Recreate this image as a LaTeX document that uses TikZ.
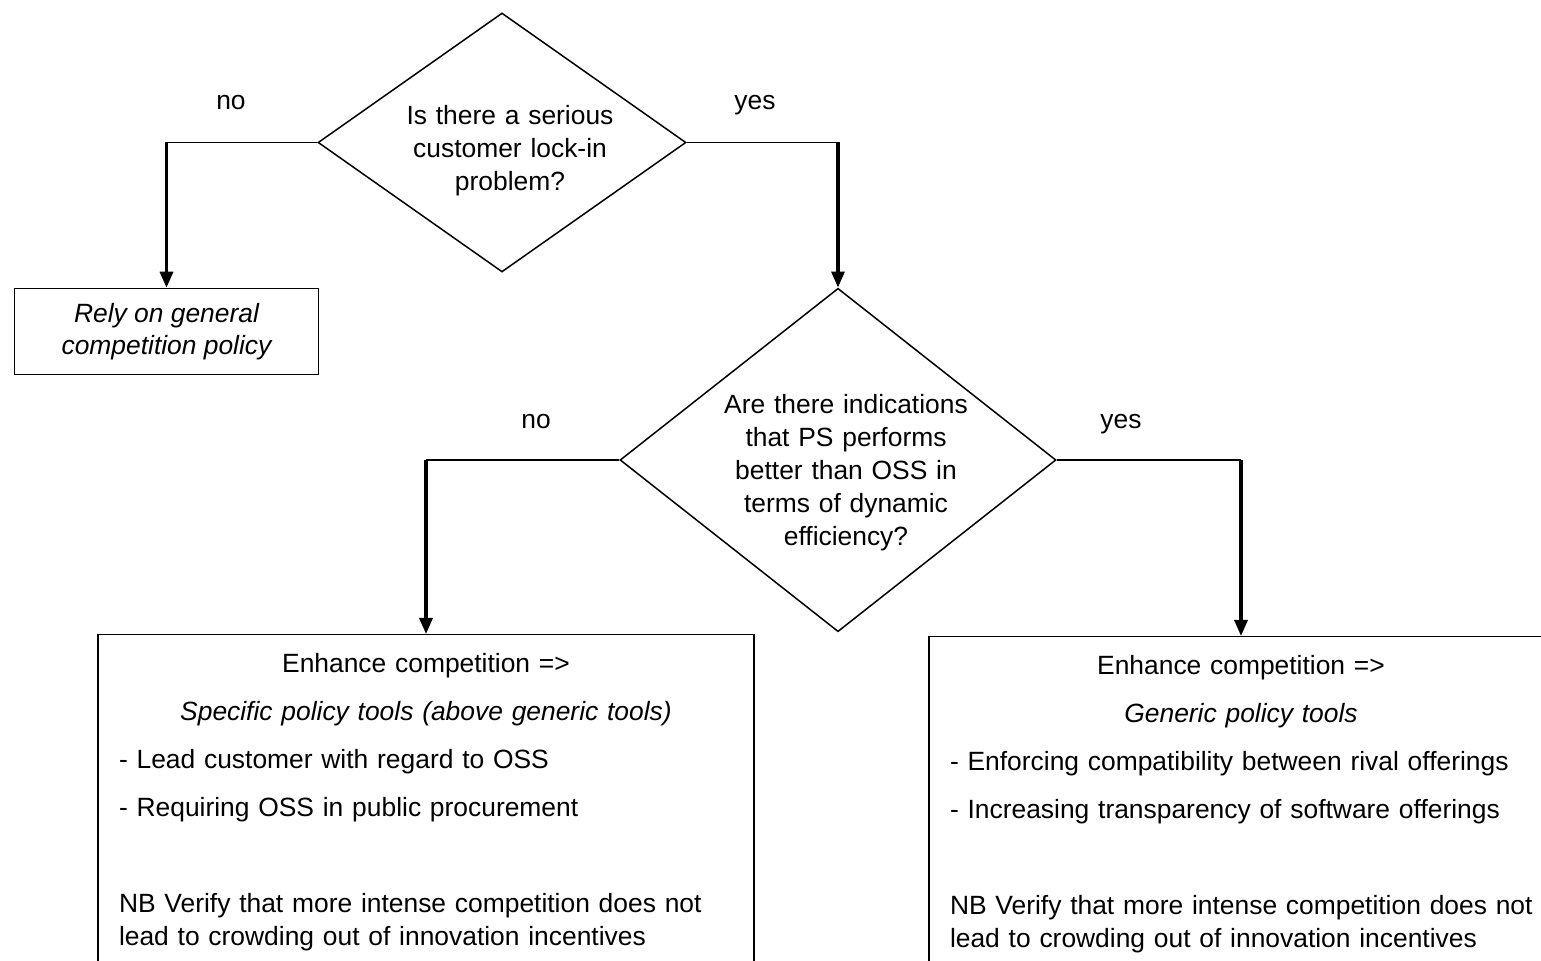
\documentclass[tikz,border=0pt]{standalone}
\usepackage{fontspec}
\setmainfont{Liberation Sans}
\usetikzlibrary{shapes.geometric, arrows.meta}
\begin{document}
\begin{tikzpicture}[x = 0.5pt, y = -0.5pt,
        every node/.style = {font = \fontsize{13.2}{16.4}\selectfont},
        ask/.style = {diamond, draw, line width = 0.75pt, inner sep = 0pt},
        asktext/.style = {anchor = base, align = center, text width = 150pt},
        answer/.style = {anchor = base},
        outcome/.style = {draw, line width = 0.75pt, minimum width = 152pt, minimum height = 43pt,
            align = center, font = \fontsize{13.2}{16}\selectfont\itshape},
        tools/.style = {draw, line width = 0.75pt, anchor = north, align = left,
            inner xsep = 10.5pt, inner ysep = 0pt, text height = 19pt, text depth = 200pt},
        link/.style = {line width = 0.75pt},
        flow/.style = {line width = 1.6pt, -{Triangle[length = 8pt, width = 6.5pt]}}]
        \path[use as bounding box, clip] (0,0) rectangle (1541,961);
        \begin{scope}[name prefix = top-]
            \node[ask, minimum width = 184pt, minimum height = 129.5pt] (Q) at (502,142.5) {};
            \node[asktext] (QT) at (510,125) {Is there a serious\\customer lock-in\\problem?};
            \node[answer] (no) at (231,110) {no};
            \node[answer] (yes) at (755,110) {yes};
            \node[outcome] (N) at (166.5,331.5) {Rely on general\\competition policy};
            \coordinate (NC) at (166.5,142.5);
            \coordinate (YC) at (838,142.5);
            \draw[link] (Q.west) -- (NC);
            \draw[flow] (NC) -- (N.north);
            \draw[link] (Q.east) -- (YC);
        \end{scope}
        \begin{scope}[name prefix = bottom-]
            \node[ask, minimum width = 218pt, minimum height = 171.7pt] (Q) at (838,460) {};
            \node[asktext] (QT) at (846,414) {Are there indications\\that PS performs\\better than OSS in\\terms of dynamic\\efficiency?};
            \node[answer] (no) at (536,429) {no};
            \node[answer] (yes) at (1121,429) {yes};
            \node[tools, text width = 307pt] (N) at (426,634) {%
                {\centering Enhance competition =>\\[7.6pt]
                \textit{Specific policy tools (above generic tools)}\par}
                \vspace{7.6pt}
                - Lead customer with regard to OSS\\[7.6pt]
                - Requiring OSS in public procurement\\[31.6pt]
                \mbox{NB Verify that more intense competition does not}\\
                lead to crowding out of innovation incentives};
            \node[tools, text width = 291pt] (Y) at (1241,636) {%
                {\centering Enhance competition =>\\[7.6pt]
                \textit{Generic policy tools}\par}
                \vspace{7.6pt}
                - Enforcing compatibility between rival offerings\\[7.6pt]
                - Increasing transparency of software offerings\\[31.6pt]
                \mbox{NB Verify that more intense competition does not}\\
                lead to crowding out of innovation incentives};
            \coordinate (NC) at (426,460);
            \coordinate (YC) at (1241,460);
            \draw[link] (Q.west) -- (NC);
            \draw[flow] (NC) -- (N.north);
            \draw[link] (Q.east) -- (YC);
            \draw[flow] (YC) -- (Y.north);
        \end{scope}
        \draw[flow] (top-YC) -- (bottom-Q.north);
\end{tikzpicture}
\end{document}
